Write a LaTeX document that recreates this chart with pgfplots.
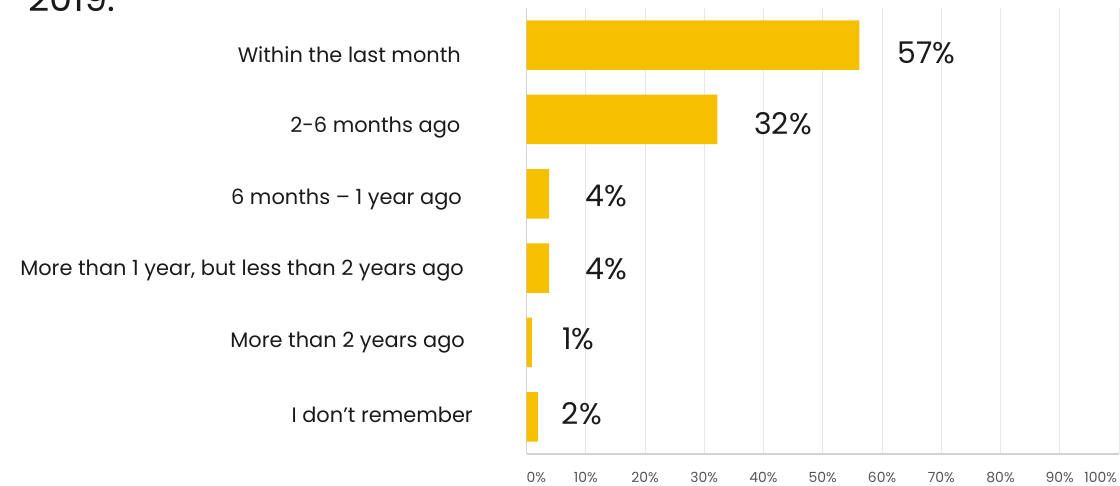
\documentclass[border=0pt]{standalone}
\usepackage{fontspec}
\setmainfont{Poppins}
\usepackage{pgfplots}
\pgfplotsset{compat=1.18}
\usepackage{pgfplotstable}
\definecolor{baryellow}{HTML}{F5C000}
\definecolor{gridgray}{HTML}{E8E8E8}
\definecolor{axisgray}{HTML}{D2D2D2}
\definecolor{ticktext}{HTML}{555555}
\definecolor{labtext}{HTML}{1A1A1A}

% y = category position, val = bar length (%), labx/laby = value label position, lab = printed value
\pgfplotstableread{
y val labx laby lab
5 56.2 62.55 4.901 57
4 32.2 38.42 3.939 32
3 3.8 9.90 2.970 4
2 3.8 9.90 1.989 4
1 0.9 6.00 1.046 1
0 1.9 5.95 0.044 2
}\datatable

\begin{document}
\begin{tikzpicture}[x=1bp,y=1bp]
\useasboundingbox (0,0) rectangle (1120,486);
\node[anchor=base west, inner sep=0pt, font=\fontsize{37}{37}\selectfont, text=labtext] at (28,474) {2019.};
\begin{axis}[
  at={(526.5bp,32bp)}, anchor=south west,
  scale only axis, width=592.5bp, height=446bp,
  xmin=0, xmax=100, ymin=-0.5, ymax=5.5,
  clip=false,
  axis lines*=left,
  axis line style={-, draw=axisgray, line width=1.2bp},
  tick style={draw=none}, major tick length=0pt,
  xmajorgrids, major grid style={draw=gridgray, line width=0.8bp},
  xtick={0,10,...,100},
  xticklabels={\makebox[0pt][l]{0\%},10\%,20\%,30\%,40\%,50\%,60\%,70\%,80\%,90\%,\makebox[0pt][r]{100\%\hspace{2bp}}},
  xticklabel style={font=\fontsize{14}{14}\selectfont, text=ticktext, inner sep=0pt,
    anchor=center, text height=9.8bp, text depth=0pt, yshift=-24bp},
  ytick={-0.027,0.982,1.951,2.906,3.875,4.816},
  yticklabels={
    {I don’t remember\hspace*{-12.5bp}},
    {More than 2 years ago\hspace*{-4.5bp}},
    {More than 1 year, but less than 2 years ago\hspace*{-3.5bp}},
    {6 months – 1 year ago\hspace*{-1.5bp}},
    {2-6 months ago},
    {Within the last month\hspace*{-0.5bp}}},
  yticklabel style={font=\fontsize{21}{21}\selectfont, text=labtext, inner sep=0pt,
    anchor=east, text height=0.7em, text depth=0pt, xshift=-66bp},
]
\addplot[xbar, fill=baryellow, draw=none, bar width=49.5bp] table[x=val, y=y]{\datatable};
\addplot[draw=none, mark=none, nodes near coords={\pgfplotspointmeta\%},
  point meta=explicit symbolic,
  nodes near coords align=horizontal,
  every node near coord/.append style={anchor=west, inner sep=0pt,
    font=\fontsize{30}{30}\selectfont, text=labtext}]
  table[x=labx, y=laby, meta=lab]{\datatable};
\end{axis}
\end{tikzpicture}
\end{document}
